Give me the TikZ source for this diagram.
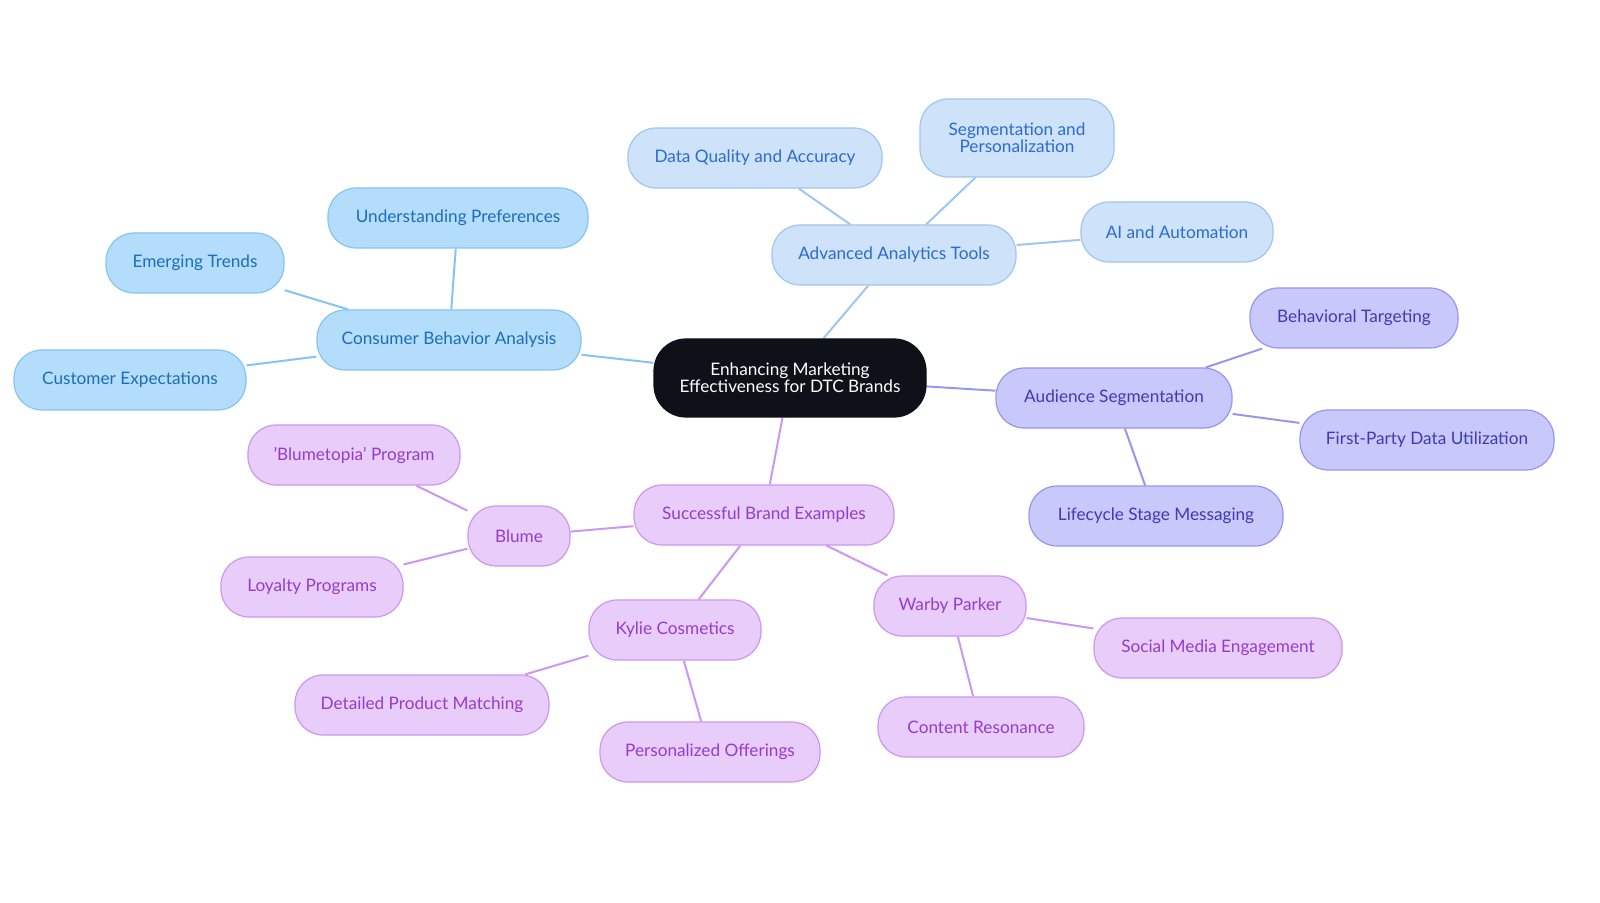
\documentclass[tikz,border=0pt]{standalone}
\usepackage{fontspec}
\setmainfont{Lato}
\usetikzlibrary{backgrounds}
\definecolor{cbfill}{RGB}{179,221,251}
\definecolor{cbline}{RGB}{132,196,243}
\definecolor{cbtext}{RGB}{27,110,185}
\definecolor{aafill}{RGB}{206,226,250}
\definecolor{aaline}{RGB}{158,198,240}
\definecolor{aatext}{RGB}{42,108,208}
\definecolor{asfill}{RGB}{200,200,250}
\definecolor{asline}{RGB}{150,150,240}
\definecolor{astext}{RGB}{60,60,180}
\definecolor{sbfill}{RGB}{232,204,250}
\definecolor{sbline}{RGB}{205,150,240}
\definecolor{sbtext}{RGB}{150,60,205}
\definecolor{rootfill}{RGB}{14,17,23}
\begin{document}
\begin{tikzpicture}[x=0.5pt, y=-0.5pt,
  box/.style={draw, rounded corners=14pt, line width=0.6pt, minimum height=30pt, inner sep=3pt, align=center, font=\fontsize{8.6}{8.6}\selectfont},
  cb/.style={box, fill=cbfill, draw=cbline, text=cbtext},
  aa/.style={box, fill=aafill, draw=aaline, text=aatext},
  as/.style={box, fill=asfill, draw=asline, text=astext},
  sb/.style={box, fill=sbfill, draw=sbline, text=sbtext},
  link/.style={line width=1pt}]
% Root
\node[box, fill=rootfill, draw=rootfill, text=white, minimum width=136pt, minimum height=39pt, rounded corners=16pt] (root) at (790,378) {Enhancing Marketing\\Effectiveness for DTC Brands};
% Consumer behaviour
\node[cb, minimum width=132pt] (cba) at (449,340) {Consumer Behavior Analysis};
\node[cb, minimum width=130pt] (up) at (458,218) {Understanding Preferences};
\node[cb, minimum width=89pt] (et) at (195,263) {Emerging Trends};
\node[cb, minimum width=116pt] (ce) at (130,380) {Customer Expectations};
% Analytics
\node[aa, minimum width=122pt] (aat) at (894,255) {Advanced Analytics Tools};
\node[aa, minimum width=127pt] (dqa) at (755,158) {Data Quality and Accuracy};
\node[aa, minimum width=97pt, minimum height=39pt] (sp) at (1017,138) {Segmentation and\\Personalization};
\node[aa, minimum width=96pt] (aia) at (1177,232) {AI and Automation};
% Audience
\node[as, minimum width=118pt] (aus) at (1114,398) {Audience Segmentation};
\node[as, minimum width=104pt] (bt) at (1354,318) {Behavioral Targeting};
\node[as, minimum width=127pt] (fpd) at (1427,440) {First-Party Data Utilization};
\node[as, minimum width=127pt] (lsm) at (1156,516) {Lifecycle Stage Messaging};
% Brands
\node[sb, minimum width=130pt] (sbe) at (764,515) {Successful Brand Examples};
\node[sb, minimum width=51pt] (blume) at (519,536) {Blume};
\node[sb, minimum width=106pt] (bp) at (354,455) {'Blumetopia' Program};
\node[sb, minimum width=91pt] (lp) at (312,587) {Loyalty Programs};
\node[sb, minimum width=86pt] (kc) at (675,630) {Kylie Cosmetics};
\node[sb, minimum width=127pt] (dpm) at (422,705) {Detailed Product Matching};
\node[sb, minimum width=110pt] (po) at (710,752) {Personalized Offerings};
\node[sb, minimum width=76pt] (wp) at (950,606) {Warby Parker};
\node[sb, minimum width=124pt] (sme) at (1218,648) {Social Media Engagement};
\node[sb, minimum width=103pt] (cr) at (981,727) {Content Resonance};
% Links
\begin{scope}[on background layer]
\draw[link, cbline] (root) -- (cba);
\draw[link, cbline] (cba) -- (up);
\draw[link, cbline] (cba) -- (et);
\draw[link, cbline] (cba) -- (ce);
\draw[link, aaline] (root) -- (aat);
\draw[link, aaline] (aat) -- (dqa);
\draw[link, aaline] (aat) -- (sp);
\draw[link, aaline] (aat) -- (aia);
\draw[link, asline] (root) -- (aus);
\draw[link, asline] (aus) -- (bt);
\draw[link, asline] (aus) -- (fpd);
\draw[link, asline] (aus) -- (lsm);
\draw[link, sbline] (root) -- (sbe);
\draw[link, sbline] (sbe) -- (blume);
\draw[link, sbline] (blume) -- (bp);
\draw[link, sbline] (blume) -- (lp);
\draw[link, sbline] (sbe) -- (kc);
\draw[link, sbline] (kc) -- (dpm);
\draw[link, sbline] (kc) -- (po);
\draw[link, sbline] (sbe) -- (wp);
\draw[link, sbline] (wp) -- (sme);
\draw[link, sbline] (wp) -- (cr);
\end{scope}
\pgfresetboundingbox
\useasboundingbox (0,0) rectangle (1600,903);
\end{tikzpicture}
\end{document}
